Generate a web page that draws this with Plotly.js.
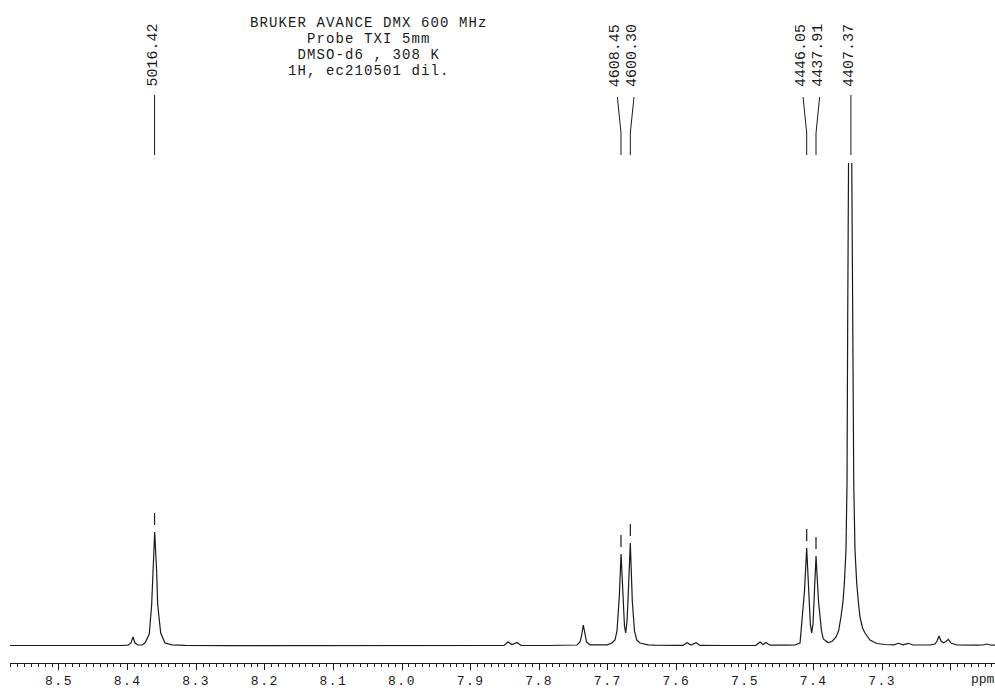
<!DOCTYPE html>
<html>
<head>
<meta charset="utf-8">
<script src="https://cdn.plot.ly/plotly-3.0.1.min.js"></script>
<style>html,body{margin:0;padding:0;background:#fff;}#chart{width:995px;height:688px;}</style>
</head>
<body>
<div id="chart"></div>
<script>
// ---- data ----
const titleLines = ["BRUKER AVANCE DMX 600 MHz", "Probe TXI 5mm", "DMSO-d6 , 308 K", "1H, ec210501 dil."];
const spectrometerMHz = 600;
const peakHz = [5016.42, 4608.45, 4600.30, 4446.05, 4437.91, 4407.37];
const tickValues = [8.5, 8.4, 8.3, 8.2, 8.1, 8.0, 7.9, 7.8, 7.7, 7.6, 7.5, 7.4, 7.3, 7.2];
const tickLabels = ["8.5", "8.4", "8.3", "8.2", "8.1", "8.0", "7.9", "7.8", "7.7", "7.6", "7.5", "7.4", "7.3", ""];
const unitLabel = "ppm";

const shiftPpm = [
  8.5714, 8.5000, 8.4500, 8.4100, 8.3994, 8.3950, 8.3921, 8.3892, 8.3848, 8.3790,
  8.3746, 8.3684, 8.3649, 8.3634, 8.3605, 8.3576, 8.3561, 8.3517, 8.3455, 8.3353,
  8.3163, 8.2500, 8.1500, 8.0500, 7.9500, 7.8800, 7.8513, 7.8455, 7.8397, 7.8324,
  7.8265, 7.7900, 7.7449, 7.7405, 7.7383, 7.7357, 7.7332, 7.7310, 7.7259, 7.7114,
  7.7012, 7.6939, 7.6895, 7.6866, 7.6847, 7.6832, 7.6807, 7.6774, 7.6757, 7.6739,
  7.6720, 7.6706, 7.6672, 7.6643, 7.6628, 7.6611, 7.6579, 7.6531, 7.6414, 7.6312,
  7.6000, 7.5904, 7.5845, 7.5787, 7.5714, 7.5656, 7.5300, 7.4840, 7.4781, 7.4738,
  7.4694, 7.4636, 7.4400, 7.4271, 7.4198, 7.4155, 7.4133, 7.4101, 7.4070, 7.4048,
  7.4028, 7.4009, 7.3994, 7.3965, 7.3929, 7.3907, 7.3885, 7.3859, 7.3819, 7.3790,
  7.3732, 7.3673, 7.3637, 7.3601, 7.3571, 7.3552, 7.3528, 7.3513, 7.3503, 7.3494,
  7.3469, 7.3444, 7.3430, 7.3415, 7.3397, 7.3372, 7.3345, 7.3324, 7.3287, 7.3251,
  7.3178, 7.3080, 7.2959, 7.2828, 7.2765, 7.2697, 7.2619, 7.2551, 7.2303, 7.2230,
  7.2201, 7.2172, 7.2143, 7.2109, 7.2070, 7.2036, 7.1997, 7.1914, 7.1647, 7.1531,
  7.1477, 7.1429, 7.1356
];
const intensity = [
  0.5, 0.3, 0.5, 0.5, 0.8, 3, 9, 3, 1, 1,
  3, 12, 41, 74, 114, 74, 41, 13, 3, 1.2,
  0.6, 0.4, 0.6, 0.4, 0.5, 0.5, 0.6, 4, 1.5, 3.5,
  0.6, 0.5, 1, 4, 10, 21, 10, 4, 1.2, 0.8,
  1.2, 3, 6, 15, 33, 50, 92, 43, 20, 13,
  25, 45, 103, 45, 33, 15, 6, 3, 1.2, 0.8,
  0.6, 0.6, 3.3, 1, 3.3, 0.6, 0.5, 0.7, 4, 1.5,
  3.5, 0.8, 0.8, 1, 3, 33, 55, 98, 50, 22,
  13, 22, 45, 90, 45, 33, 15, 7, 4.5, 3.5,
  4.5, 9, 15, 29, 45, 63, 96, 163, 329, 483,
  760, 483, 329, 163, 96, 63, 42, 29, 18, 13,
  6, 2.5, 1.5, 1.2, 2.7, 1.2, 2.7, 1, 1, 2,
  5, 10, 5, 3.3, 4.5, 6.7, 3, 1, 0.8, 1,
  2, 1, 0.8
];

// ---- build ----
const FONT = "Liberation Mono, Courier New, monospace";
const INK = "#1a1a1a";
const xRange = [8.5714, 7.1356];
const plotTop = 163, plotBottom = 663, plotH = plotBottom - plotTop;
const py = px => (plotBottom - px) / plotH;       // pixel row -> paper y
const pxPerPpm = 985 / (xRange[0] - xRange[1]);

const peakPpm = peakHz.map(h => h / spectrometerMHz);

// spread labels so they don't overlap
const minGap = 16.6 / pxPerPpm;
const labelPpm = peakPpm.slice();
for (let it = 0; it < 50; it++) {
  for (let i = 0; i < labelPpm.length - 1; i++) {
    const d = labelPpm[i] - labelPpm[i + 1];
    if (d < minGap) {
      const m = (labelPpm[i] + labelPpm[i + 1]) / 2;
      labelPpm[i] = m + minGap / 2;
      labelPpm[i + 1] = m - minGap / 2;
    }
  }
}

// local maximum of the spectrum near each picked peak
function peakTop(p) {
  let best = 0;
  shiftPpm.forEach((s, i) => { if (Math.abs(s - p) < 0.003 && intensity[i] > best) best = intensity[i]; });
  return best;
}

const annotations = [];
const shapes = [];

// title block: one annotation; base size sets the line spacing, glyphs drawn at 14px, letter-spaced
annotations.push({
  text: titleLines.map(t => '<span style="font-size:14px;letter-spacing:1.1px">' + t + '</span>').join('<br>'),
  xref: "paper", yref: "paper", x: (369 - 10) / 985, y: py(47),
  xanchor: "center", yanchor: "middle", align: "center", showarrow: false,
  font: { family: FONT, size: 12.4, color: INK }
});

peakHz.forEach((hz, i) => {
  annotations.push({
    text: hz.toFixed(2), textangle: -90, xref: "x", yref: "paper",
    x: labelPpm[i], y: py(55.5), xanchor: "center", yanchor: "middle",
    xshift: -1.5, showarrow: false,
    font: { family: FONT, size: 15, color: INK }
  });
  const bent = Math.abs(labelPpm[i] - peakPpm[i]) > 1e-6;
  const path = bent
    ? `M ${labelPpm[i]},${py(97)} L ${peakPpm[i]},${py(133)} L ${peakPpm[i]},${py(155)}`
    : `M ${peakPpm[i]},${py(95)} L ${peakPpm[i]},${py(155)}`;
  shapes.push({ type: "path", xref: "x", yref: "paper", path: path, line: { color: INK, width: 1 } });
  const h = peakTop(peakPpm[i]);
  shapes.push({
    type: "line", xref: "x", yref: "y", x0: peakPpm[i], x1: peakPpm[i], y0: h + 7, y1: h + 19,
    line: { color: INK, width: 1.2 }
  });
});

annotations.push({
  text: unitLabel, xref: "paper", yref: "paper", x: (983 - 10) / 985, y: py(679.5),
  xanchor: "center", yanchor: "middle", showarrow: false,
  font: { family: FONT, size: 13, color: INK }
});

const trace = {
  type: "scatter", mode: "lines", x: shiftPpm, y: intensity,
  line: { color: INK, width: 1.2, shape: "linear" }, hoverinfo: "skip"
};

const layout = {
  width: 995, height: 688,
  margin: { l: 10, r: 0, t: plotTop, b: 688 - plotBottom, pad: 0 },
  paper_bgcolor: "#ffffff", plot_bgcolor: "#ffffff",
  showlegend: false,
  xaxis: {
    range: xRange, showgrid: false, zeroline: false,
    showline: true, linecolor: INK, linewidth: 1,
    ticks: "outside", ticklen: 6, tickwidth: 1, tickcolor: INK,
    tickmode: "array", tickvals: tickValues,
    ticktext: tickLabels.map(t => t ? '<span style="letter-spacing:1.5px">' + t + '</span>' : t),
    tickfont: { family: FONT, size: 13, color: INK },
    ticklabelstandoff: -1,
    minor: { dtick: 0.01, tick0: 0, ticks: "outside", ticklen: 3, tickwidth: 1, tickcolor: INK, showgrid: false }
  },
  yaxis: { range: [-17, 483], visible: false, showgrid: false, zeroline: false },
  annotations: annotations,
  shapes: shapes
};

Plotly.newPlot("chart", [trace], layout, { staticPlot: true, displayModeBar: false });
</script>
</body>
</html>
